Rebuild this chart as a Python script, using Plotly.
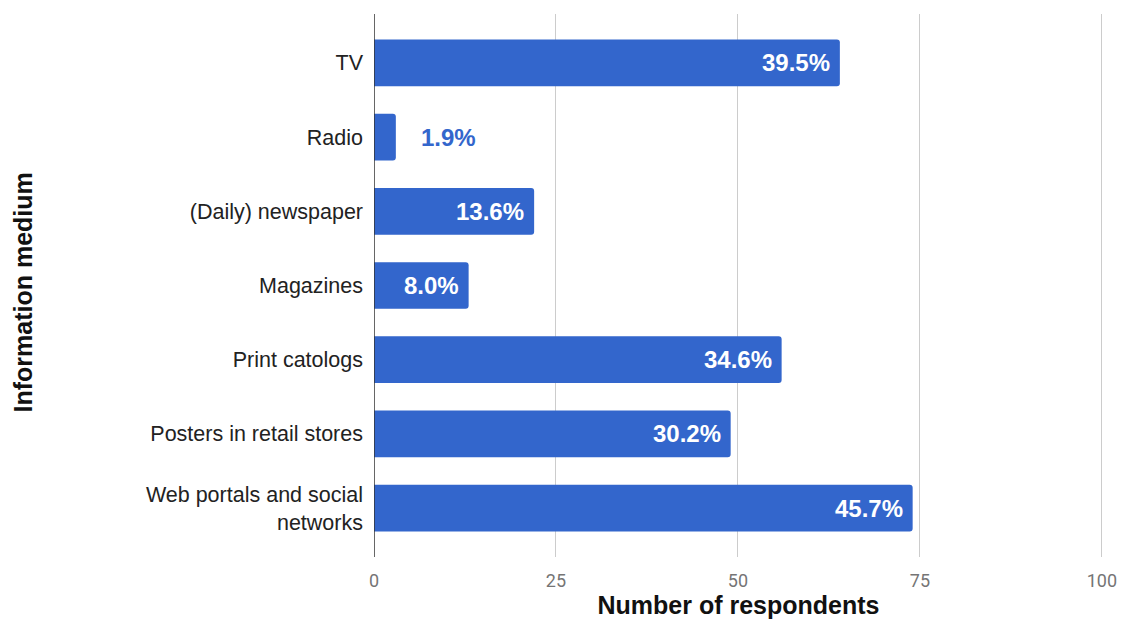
import plotly.graph_objects as go

# Survey: which information media respondents use
categories = [
    "TV",
    "Radio",
    "(Daily) newspaper",
    "Magazines",
    "Print catologs",
    "Posters in retail stores",
    "Web portals and social<br>networks",
]
respondents = [64, 3, 22, 13, 56, 49, 74]
total_respondents = 162
x_ticks = [0, 25, 50, 75, 100]

BAR_COLOR = "#3366cc"
TEXT_FONT = "Liberation Sans, Arial, sans-serif"
positions = list(range(len(categories)))
pct_labels = [f"{v / total_respondents * 100:.1f}%" for v in respondents]

fig = go.Figure(
    go.Bar(
        x=respondents,
        y=positions,
        orientation="h",
        marker=dict(color=BAR_COLOR, line=dict(width=0)),
        width=0.63,
        hoverinfo="skip",
    )
)

# Percentage labels: inside the bar end when it fits, otherwise just beyond it
for pos, val, lab in zip(positions, respondents, pct_labels):
    inside = val >= 8
    fig.add_annotation(
        x=val,
        y=pos,
        text=f"<b>{lab}</b>",
        showarrow=False,
        xanchor="right" if inside else "left",
        xshift=-8 if inside else 23,
        font=dict(family=TEXT_FONT, size=24,
                  color="white" if inside else BAR_COLOR),
    )

# Vertical axis title placed at the far left edge
fig.add_annotation(
    xref="paper", yref="paper",
    x=(22 - 374) / 729, y=0.5 - 7 / 543,
    xanchor="center", yanchor="middle",
    text="<b>Information medium</b>",
    textangle=-90,
    showarrow=False,
    font=dict(family=TEXT_FONT, size=25, color="#111111"),
)

fig.update_layout(
    width=1121,
    height=622,
    margin=dict(l=374, r=18, t=14, b=65),
    paper_bgcolor="white",
    plot_bgcolor="white",
    barcornerradius=3,
    showlegend=False,
    font=dict(family=TEXT_FONT, color="#222222"),
    xaxis=dict(
        range=[0, 100.15],
        tickvals=x_ticks,
        ticktext=[str(t) for t in x_ticks],
        showgrid=True,
        gridcolor="#cccccc",
        gridwidth=1,
        zeroline=False,
        showline=False,
        automargin=False,
        tickfont=dict(family="Roboto, sans-serif", size=18, color="#757575"),
        ticks="",
        ticklabelstandoff=11,
        title=dict(
            text="<b>Number of respondents</b>",
            font=dict(family=TEXT_FONT, size=25, color="#111111"),
            standoff=4,
        ),
    ),
    yaxis=dict(
        range=[6.66, -0.66],
        tickvals=positions,
        ticktext=categories,
        showgrid=False,
        zeroline=False,
        showline=False,
        automargin=False,
        ticks="",
        ticklabelstandoff=10,
        tickfont=dict(size=21.5, color="#222222"),
    ),
)

# Dark baseline at zero
fig.add_shape(
    type="line", xref="x", yref="paper",
    x0=0, x1=0, y0=0, y1=1,
    line=dict(color="#333333", width=1.5),
    layer="above",
)

fig.write_html("out.html")
